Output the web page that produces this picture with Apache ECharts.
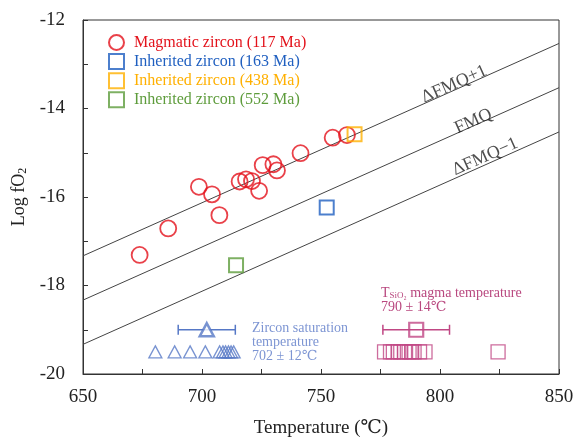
<!DOCTYPE html>
<html>
<head>
<meta charset="utf-8">
<script src="https://cdn.jsdelivr.net/npm/echarts@6/dist/echarts.min.js"></script>
<style>
  html, body { margin: 0; padding: 0; background: #ffffff; }
  #chart { width: 575px; height: 437px; }
</style>
</head>
<body>
<div id="chart"></div>
<script>
// Axis ranges and tick steps
const xRange = [650, 850];
const yRange = [-20, -12];

// Oxygen buffer lines (temperature end points and log fO2 at each end)
const bufferT = [650, 850];
const fmqPlus1 = [-17.33, -12.53];
const fmq = [-18.33, -13.53];
const fmqMinus1 = [-19.33, -14.53];
const bufferNames = ['ΔFMQ+1', 'FMQ', 'ΔFMQ−1'];
const bufferLabelT = [806, 814, 819];
const bufferLabelY = [-13.45, -14.29, -15.09];

// Magmatic zircon (117 Ma): temperature (°C), log fO2
const magmaticT = [673.8, 685.8, 698.7, 704.2, 707.3, 715.8, 718.5, 721.0, 724.0, 725.5, 730.0, 731.5, 741.4, 754.9, 760.9];
const magmaticFO2 = [-17.31, -16.71, -15.77, -15.94, -16.41, -15.65, -15.60, -15.64, -15.86, -15.28, -15.26, -15.40, -15.01, -14.66, -14.60];

// Inherited zircons
const inh163 = [[752.4, -16.24]];
const inh438 = [[764.1, -14.58]];
const inh552 = [[714.3, -17.54]];

// Zircon saturation temperatures (individual samples) and their mean ± 1σ
const zsatT = [680.4, 688.5, 695.0, 701.4, 707.4, 708.8, 709.9, 711.1, 712.2, 713.3];
const zsatRow = -19.5;
const zsatMean = 702, zsatErr = 12, zsatMeanRow = -19.0;

// TSiO2 magma temperatures and their mean ± 1σ
const tsioT = [776.7, 779.2, 780.4, 782.4, 783.5, 785.1, 787.0, 788.1, 789.1, 791.4, 793.7, 824.4];
const tsioRow = -19.5;
const tsioMean = 790, tsioErr = 14, tsioMeanRow = -19.0;

const serif = '"Liberation Serif", "DejaVu Serif", serif';
const cRed = '#e3121b', cBlue = '#1f5fc0', cOrange = '#ffb000', cGreen = '#5e9c3c';
const cZsat = '#5678c6', cZsatText = '#7d95d3', cTsio = '#c04784', cTsioText = '#b9487f';

function pairs(xs, ys) { return xs.map((x, i) => [x, ys[i]]); }
function row(xs, y) { return xs.map(x => [x, y]); }

function errorBar(mean, err, yv, color) {
  return {
    type: 'custom',
    silent: true,
    z: 3,
    data: [[mean - err, mean + err, yv]],
    renderItem: function (params, api) {
      const p1 = api.coord([api.value(0), api.value(2)]);
      const p2 = api.coord([api.value(1), api.value(2)]);
      const h = 5;
      const st = { stroke: color, lineWidth: 1.5 };
      return {
        type: 'group',
        children: [
          { type: 'line', shape: { x1: p1[0], y1: p1[1], x2: p2[0], y2: p2[1] }, style: st },
          { type: 'line', shape: { x1: p1[0], y1: p1[1] - h, x2: p1[0], y2: p1[1] + h }, style: st },
          { type: 'line', shape: { x1: p2[0], y1: p2[1] - h, x2: p2[0], y2: p2[1] + h }, style: st }
        ]
      };
    }
  };
}

function bufferLine(ys) {
  return {
    type: 'line', silent: true, symbol: 'none', z: 1,
    data: pairs(bufferT, ys),
    lineStyle: { color: '#444', width: 1 }
  };
}

const chart = echarts.init(document.getElementById('chart'), null, { renderer: 'canvas' });

chart.setOption({
  backgroundColor: '#ffffff',
  animation: false,
  textStyle: { fontFamily: serif },
  grid: { left: 83, right: 16, top: 20, bottom: 63, outerBoundsMode: 'none', containLabel: false,
    show: true, borderColor: '#333', borderWidth: 1, backgroundColor: 'transparent' },
  xAxis: {
    type: 'value', min: xRange[0], max: xRange[1], interval: 25,
    name: 'Temperature (℃)', nameLocation: 'middle', nameGap: 45,
    nameTextStyle: { fontFamily: serif, fontSize: 19, color: '#222' },
    axisLine: { lineStyle: { color: '#333', width: 1 } },
    axisTick: { inside: true, length: 5, lineStyle: { color: '#333' } },
    axisLabel: { fontFamily: serif, fontSize: 19, color: '#222', margin: 14,
      formatter: v => (v % 50 === 0 ? String(v) : '') },
    splitLine: { show: false }
  },
  yAxis: {
    type: 'value', min: yRange[0], max: yRange[1], interval: 1,
    name: 'Log fO{sub|2}', nameLocation: 'middle', nameGap: 54,
    nameTextStyle: { fontFamily: serif, fontSize: 18, color: '#222',
      rich: { sub: { fontFamily: serif, fontSize: 12, color: '#222', verticalAlign: 'bottom', padding: [8, 0, 0, 0] } } },
    axisLine: { show: true, lineStyle: { color: '#333', width: 1 } },
    axisTick: { show: true, inside: true, length: 5, lineStyle: { color: '#333' } },
    axisLabel: { fontFamily: serif, fontSize: 19, color: '#222', margin: 18,
      formatter: v => (v % 2 === 0 ? String(v) : '') },
    splitLine: { show: false }
  },
  legend: {
    orient: 'vertical', left: 103, top: 29, itemGap: 2.1,
    itemWidth: 15, itemHeight: 15,
    textStyle: { fontFamily: serif, fontSize: 16, lineHeight: 15, padding: [0, 0, 0, 5] },
    data: [
      { name: 'Magmatic zircon (117 Ma)', textStyle: { color: cRed } },
      { name: 'Inherited zircon (163 Ma)', textStyle: { color: cBlue } },
      { name: 'Inherited zircon (438 Ma)', textStyle: { color: cOrange } },
      { name: 'Inherited zircon (552 Ma)', textStyle: { color: cGreen } }
    ]
  },
  series: [
    bufferLine(fmqPlus1),
    bufferLine(fmq),
    bufferLine(fmqMinus1),
    {
      type: 'scatter', silent: true, symbolSize: 0, z: 2,
      data: bufferNames.map((n, i) => ({ name: n, value: [bufferLabelT[i], bufferLabelY[i]] })),
      label: { show: true, position: 'inside', rotate: 24, formatter: p => p.name,
        fontFamily: serif, fontSize: 18, color: '#222' }
    },
    {
      name: 'Magmatic zircon (117 Ma)', type: 'scatter', symbol: 'circle', symbolSize: 16, z: 5,
      data: pairs(magmaticT, magmaticFO2),
      itemStyle: { color: 'rgba(255,255,255,0)', borderColor: cRed, borderWidth: 1.8 }
    },
    {
      name: 'Inherited zircon (163 Ma)', type: 'scatter', symbol: 'rect', symbolSize: 14, z: 5,
      data: inh163,
      itemStyle: { color: 'rgba(255,255,255,0)', borderColor: cBlue, borderWidth: 2 }
    },
    {
      name: 'Inherited zircon (438 Ma)', type: 'scatter', symbol: 'rect', symbolSize: 14, z: 5,
      data: inh438,
      itemStyle: { color: 'rgba(255,255,255,0)', borderColor: cOrange, borderWidth: 2 }
    },
    {
      name: 'Inherited zircon (552 Ma)', type: 'scatter', symbol: 'rect', symbolSize: 14, z: 5,
      data: inh552,
      itemStyle: { color: 'rgba(255,255,255,0)', borderColor: cGreen, borderWidth: 2 }
    },
    {
      type: 'scatter', silent: true, symbol: 'triangle', symbolSize: [13, 12], z: 4,
      data: row(zsatT, zsatRow),
      itemStyle: { color: 'rgba(255,255,255,0)', borderColor: cZsat, borderWidth: 1.3 }
    },
    errorBar(zsatMean, zsatErr, zsatMeanRow, cZsat),
    {
      type: 'scatter', silent: true, symbol: 'triangle', symbolSize: [14, 13], z: 5,
      data: [[zsatMean, zsatMeanRow]],
      itemStyle: { color: '#ffffff', borderColor: cZsat, borderWidth: 2.5 }
    },
    {
      type: 'scatter', silent: true, symbol: 'rect', symbolSize: 14, z: 4,
      data: row(tsioT, tsioRow),
      itemStyle: { color: 'rgba(255,255,255,0)', borderColor: cTsio, borderWidth: 1.3 }
    },
    errorBar(tsioMean, tsioErr, tsioMeanRow, cTsio),
    {
      type: 'scatter', silent: true, symbol: 'rect', symbolSize: 14, z: 5,
      data: [[tsioMean, tsioMeanRow]],
      itemStyle: { color: 'rgba(255,255,255,0)', borderColor: cTsio, borderWidth: 2.2 }
    }
  ],
  graphic: [
    {
      type: 'text', left: 252, top: 321, silent: true,
      style: {
        text: 'Zircon saturation\ntemperature\n702 ± 12℃',
        fontFamily: serif, fontSize: 14, lineHeight: 14, fill: cZsatText
      }
    },
    {
      type: 'text', left: 381, top: 286, silent: true,
      style: {
        text: 'T{s|SiO₂} magma temperature\n790 ± 14℃',
        fontFamily: serif, fontSize: 14, lineHeight: 14, fill: cTsioText,
        rich: { s: { fontFamily: serif, fontSize: 9, fill: cTsioText, verticalAlign: 'bottom' } }
      }
    }
  ]
});
</script>
</body>
</html>
